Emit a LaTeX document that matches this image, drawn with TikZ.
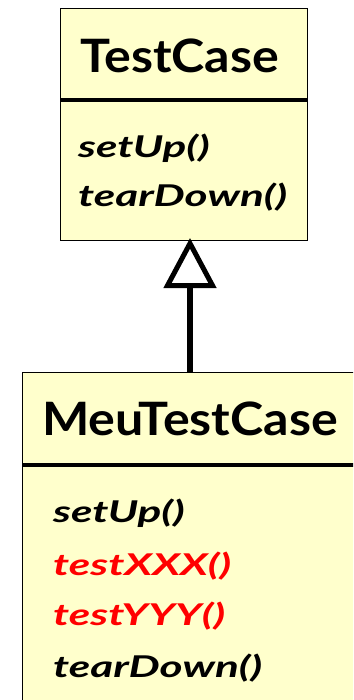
\documentclass[tikz,border=0pt]{standalone}
\usepackage{fontspec}
\setmainfont{Lato}
\newfontfamily\namefont[FakeStretch=1.09]{Lato}
\newfontfamily\methfont[FakeStretch=1.47]{Lato}
\usetikzlibrary{arrows.meta}
\definecolor{boxfill}{HTML}{FFFFCC}
\definecolor{methred}{HTML}{FF0000}
\tikzset{
  classbox/.style={draw=black, line width=1.3pt, fill=boxfill, inner sep=0pt, anchor=north west},
  divider/.style={line width=3.5pt},
  classname/.style={anchor=base west, inner sep=0pt, font=\namefont\fontsize{46}{46}\selectfont\bfseries},
  meth/.style={anchor=base west, inner sep=0pt, font=\methfont\fontsize{30}{30}\selectfont\bfseries\itshape},
  inherit/.style={line width=6.5pt, -{Triangle[open, length=50pt, width=52pt, line width=5pt]}}
}
\begin{document}
\begin{tikzpicture}[x=1pt,y=1pt]
\useasboundingbox (0,0) rectangle (353,-700);
\begin{scope}
\clip (0,0) rectangle (353,-700);
% superclass
\node[classbox, minimum width=247pt, minimum height=232pt] (sup) at (60,-8) {};
\coordinate (supdl) at (60,-100);
\coordinate (supdr) at (307,-100);
\draw[divider] (supdl) -- (supdr);
\node[classname] (supname) at (80,-73) {TestCase};
\node[meth] (supm1) at (78,-158) {setUp()};
\node[meth] (supm2) at (78,-207) {tearDown()};
% subclass
\node[classbox, minimum width=345pt, minimum height=345pt] (sub) at (22,-372) {};
\coordinate (subdl) at (22,-465);
\coordinate (subdr) at (367,-465);
\draw[divider] (subdl) -- (subdr);
\node[classname] (subname) at (42,-435) {MeuTestCase};
\node[meth] (subm1) at (53,-522) {setUp()};
\node[meth, text=methred] (subm2) at (53,-575) {testXXX()};
\node[meth, text=methred] (subm3) at (53,-625) {testYYY()};
\node[meth] (subm4) at (53,-677) {tearDown()};
% inheritance
\coordinate (subtop) at (190,-372);
\coordinate (supbot) at (190,-238);
\draw[inherit] (subtop) -- (supbot);
\end{scope}
\end{tikzpicture}
\end{document}
